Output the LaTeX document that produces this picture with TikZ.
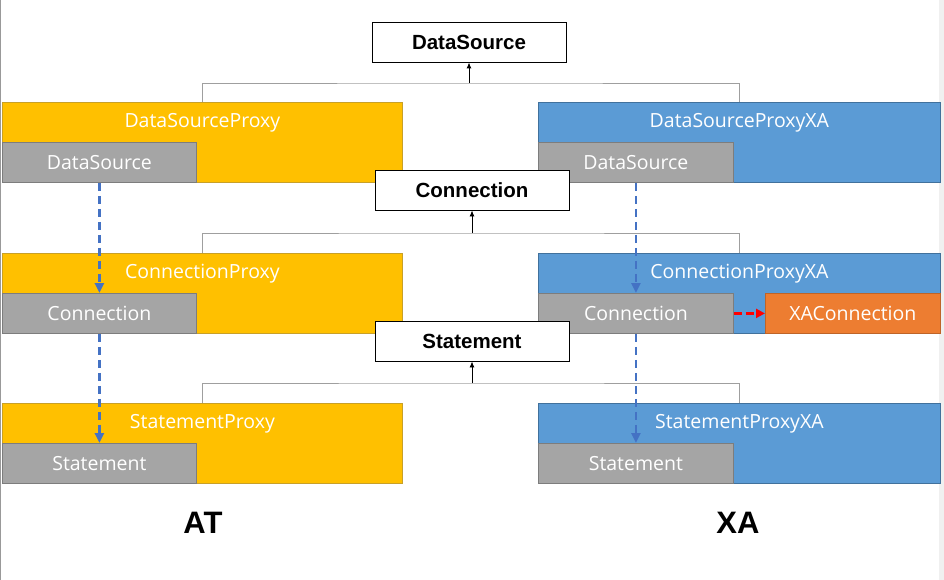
\documentclass[tikz,border=0pt]{standalone}
\usepackage{fontspec}
\setmainfont{Open Sans}
\newfontfamily\boxfont{Liberation Sans}
\usetikzlibrary{positioning, arrows.meta, calc}
\definecolor{XYellow}{RGB}{255,192,0}
\definecolor{XYellowD}{RGB}{200,160,40}
\definecolor{XBlue}{RGB}{91,155,213}
\definecolor{XBlueD}{RGB}{65,113,156}
\definecolor{XGray}{RGB}{165,165,165}
\definecolor{XGrayD}{RGB}{125,125,125}
\definecolor{XOrange}{RGB}{237,125,49}
\definecolor{XOrangeD}{RGB}{190,100,40}
\definecolor{XDash}{RGB}{68,114,196}

\begin{document}
\begin{tikzpicture}[x=1pt, y=-1pt,
          iface/.style={rectangle, draw=black, fill=white, line width=0.9pt,
                        minimum width=194pt, minimum height=40pt, inner sep=0pt,
                        font=\boxfont\fontsize{20.5}{22}\selectfont\bfseries},
          proxy/.style={rectangle, minimum width=400pt, minimum height=80pt,
                        inner sep=0pt, anchor=north west, line width=0.8pt},
          inner/.style={rectangle, fill=XGray, draw=XGrayD, line width=0.8pt,
                        minimum width=194pt, minimum height=40pt, inner sep=0pt,
                        anchor=south west, text=white,
                        font=\fontsize{19.5}{21}\selectfont},
          title/.style={text=white, inner sep=0pt,
                        font=\fontsize{19.5}{21}\selectfont},
          tree/.style={draw=gray!75, line width=0.8pt},
          arr/.style={-{Latex[length=6pt, width=5pt]}, line width=0.9pt, black},
          link/.style={-{Triangle[length=10pt, width=9pt]}, line width=2.8pt,
                       XDash, dash pattern=on 8pt off 5pt},
          xlink/.style={-{Triangle[length=9pt, width=9pt]}, line width=2.8pt,
                        red, dash pattern=on 8pt off 4pt},
          side/.style={font=\boxfont\fontsize{31}{33}\selectfont\bfseries}
        ]
        \useasboundingbox (0,0) rectangle (944,580);
        \fill[gray!12] (939,0) rectangle (944,580);
        \draw[gray!80, line width=1.2pt] (0.6,0) -- (0.6,580);

        % interfaces
        \node[iface] (ds) at (469, 42) {DataSource};

        % AT side
        \node[proxy, fill=XYellow, draw=XYellowD] (dsp) at (2, 102) {};
        \node[title] at ($(dsp.north)+(0,21)$) {DataSourceProxy};
        \node[inner] (dsin) at (dsp.south west) {\raisebox{-2pt}{DataSource}};
        \node[proxy, fill=XYellow, draw=XYellowD] (cp) at (2, 253) {};
        \node[title] at ($(cp.north)+(0,21)$) {ConnectionProxy};
        \node[inner] (cin) at (cp.south west) {\raisebox{-2pt}{Connection}};
        \node[proxy, fill=XYellow, draw=XYellowD] (sp) at (2, 403) {};
        \node[title] at ($(sp.north)+(0,21)$) {StatementProxy};
        \node[inner] (sin) at (sp.south west) {\raisebox{-2pt}{Statement}};

        % XA side
        \node[proxy, fill=XBlue, draw=XBlueD, minimum width=402pt]
              (dspxa) at (538, 102) {};
        \node[title] at ($(dspxa.north)+(0,21)$) {DataSourceProxyXA};
        \node[inner, minimum width=195pt] (dsinxa) at (dspxa.south west) {\raisebox{-2pt}{DataSource}};
        \node[proxy, fill=XBlue, draw=XBlueD, minimum width=402pt]
              (cpxa) at (538, 253) {};
        \node[title] at ($(cpxa.north)+(0,21)$) {ConnectionProxyXA};
        \node[inner, minimum width=195pt] (cinxa) at (cpxa.south west) {\raisebox{-2pt}{Connection}};
        \node[inner, anchor=south east, fill=XOrange, draw=XOrangeD,
              minimum width=175pt] (xac) at (cpxa.south east) {\raisebox{-2pt}{XAConnection}};
        \node[proxy, fill=XBlue, draw=XBlueD, minimum width=402pt]
              (spxa) at (538, 403) {};
        \node[title] at ($(spxa.north)+(0,21)$) {StatementProxyXA};
        \node[inner, minimum width=195pt] (sinxa) at (spxa.south west) {\raisebox{-2pt}{Statement}};

        \node[iface] (conn) at (472, 190) {Connection};
        \node[iface] (stmt) at (472, 341) {Statement};

        % inheritance trees
        \coordinate (j1) at (469, 83);
        \coordinate (j2) at (472, 233);
        \coordinate (j3) at (472, 383);
        \draw[tree] (dsp.north) |- (j1) -| (dspxa.north);
        \draw[tree] (cp.north) |- (j2) -| (cpxa.north);
        \draw[tree] (sp.north) |- (j3) -| (spxa.north);
        \draw[arr] (j1) -- (ds.south);
        \draw[arr] (j2) -- (conn.south);
        \draw[arr] (j3) -- (stmt.south);

        % created objects
        \draw[link] (dsin.south) -- (cin.north);
        \draw[link] (cin.south) -- (sin.north);
        \draw[link] (dsinxa.south) -- (cinxa.north);
        \draw[link] (cinxa.south) -- (sinxa.north);
        \draw[xlink] (cinxa.east) -- (xac.west);

        \node[side] (at) at (203, 523) {AT};
        \node[side] (xa) at (738, 523) {XA};
      \end{tikzpicture}
\end{document}
